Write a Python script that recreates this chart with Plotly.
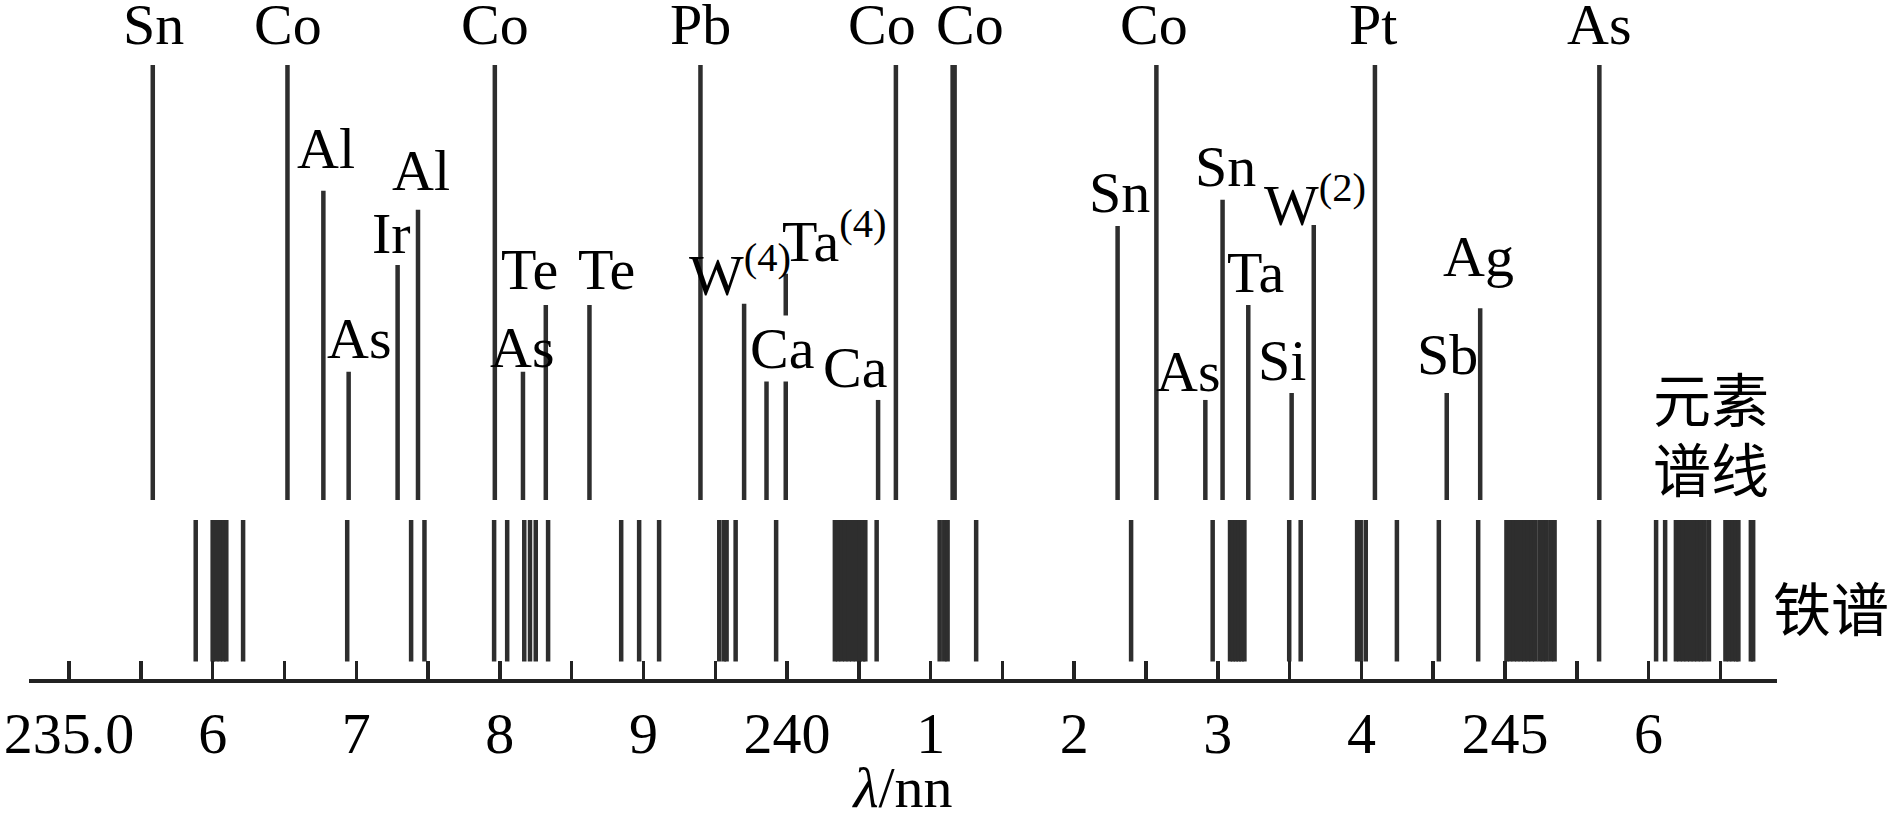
import plotly.graph_objects as go

# ---------------- data ----------------
ELEMENT_SYMBOLS = ["Sn", "Co", "Al", "As", "Ir", "Al", "Co", "As", "Te", "Te",
                   "Pb", "W<sup>(4)</sup>", "Ca", "Ta<sup>(4)</sup>", "Ca", "Co", "Co",
                   "Sn", "Co", "As", "Sn", "Ta", "Si", "W<sup>(2)</sup>", "Pt", "Sb", "Ag", "As"]
ELEMENT_WAVELENGTHS = [235.583, 236.521, 236.771, 236.947, 237.288, 237.430, 237.965,
                       238.161, 238.320, 238.624, 239.397, 239.701, 239.857, 239.991,
                       240.634, 240.758, 241.160, 242.302, 242.572, 242.913, 243.033,
                       243.212, 243.514, 243.668, 244.094, 244.594, 244.827, 245.657]
ELEMENT_INTENSITIES = [100, 100, 71.1, 29.5, 54.0, 66.7, 100, 29.5, 44.8, 44.8,
                       100, 45.1, 29.5, 52.0, 23.0, 100, 100, 63.0, 100, 23.0, 69.0,
                       44.8, 24.6, 63.2, 100, 24.6, 44.1, 100]

IRON_WAVELENGTHS = [235.882,
                    236.000, 236.025, 236.050, 236.075, 236.095,
                    236.212, 236.937, 237.382, 237.475, 237.960, 238.051,
                    238.170, 238.210, 238.250, 238.336, 238.845, 238.970, 239.109,
                    239.528, 239.560, 239.579, 239.642, 239.924,
                    240.333, 240.355, 240.380, 240.405, 240.430, 240.455, 240.480,
                    240.505, 240.530, 240.545,
                    240.624, 241.063, 241.095, 241.118, 241.317, 242.396, 242.964,
                    243.085, 243.105, 243.125, 243.145, 243.165, 243.185,
                    243.497, 243.577, 243.970, 243.995, 244.030, 244.247, 244.539,
                    244.813,
                    245.010, 245.035, 245.060, 245.085, 245.110, 245.135, 245.160,
                    245.185, 245.210, 245.240, 245.265, 245.290, 245.320, 245.345,
                    245.655, 246.052, 246.115,
                    246.190, 246.215, 246.240, 246.265, 246.290, 246.315, 246.340,
                    246.365, 246.390, 246.420,
                    246.535, 246.560, 246.585, 246.610, 246.625, 246.712, 246.728]

TICK_VALUES = [235.0, 235.5, 236.0, 236.5, 237.0, 237.5, 238.0, 238.5, 239.0, 239.5,
               240.0, 240.5, 241.0, 241.5, 242.0, 242.5, 243.0, 243.5, 244.0, 244.5,
               245.0, 245.5, 246.0, 246.5]
TICK_LABELS = ["235.0", "", "6", "", "7", "", "8", "", "9", "", "240", "", "1", "",
               "2", "", "3", "", "4", "", "245", "", "6", ""]

AXIS_TITLE = "<i>λ</i>/nn"
ELEMENT_PANEL_LABEL = ["元素", "谱线"]
IRON_PANEL_LABEL = "铁谱"

# ---------------- layout / style constants ----------------
W, H = 1890, 820
M_L, M_R, M_T, M_B = 29, 113, 0, 141
PLOT_H = H - M_T - M_B               # y axis uses pixel-like units
X_RANGE = [234.721, 246.894]
IRON_BOTTOM, IRON_TOP = 17.5, 159.0
ELEM_BASE, ELEM_FULL = 179.0, 435.0  # base height, length of a 100-intensity line
LINE_COLOR = "#2e2e2e"
THICK_INDEX = {16}
SERIF = "Liberation Serif, Times New Roman, serif"
CJK = "Noto Sans CJK SC, sans-serif"
FS = 58

# label placement: (x shift in px from its line, cap-centre y in figure px)
LABEL_POS = [(1, 24.5), (1, 24.5), (3, 148), (10, 338), (-6, 233.5), (3, 170),
             (0, 24.5), (-1, 347.5), (-16, 269), (17, 269), (0, 24), (-4, 271),
             (15, 348), (48, 237), (-23, 367.5), (-14, 24), (16, 24), (2, 192),
             (-2, 24), (-17, 371.7), (3, 166.7), (7, 272), (-10, 360), (1, 201),
             (-2, 24), (1, 354), (-2, 256), (0, 24)]
WHITE_BG = {12}


def fig_y(py):
    """figure pixel row -> y data value"""
    return PLOT_H - (py - M_T)


fig = go.Figure()

# iron spectrum
ix, iy = [], []
for lam in IRON_WAVELENGTHS:
    ix += [lam, lam, None]
    iy += [IRON_BOTTOM, IRON_TOP, None]
fig.add_trace(go.Scatter(x=ix, y=iy, mode="lines", hoverinfo="skip",
                         line=dict(color=LINE_COLOR, width=4.5), showlegend=False))

# element lines
for thick in (False, True):
    ex, ey = [], []
    for i, (lam, inten) in enumerate(zip(ELEMENT_WAVELENGTHS, ELEMENT_INTENSITIES)):
        if (i in THICK_INDEX) != thick:
            continue
        ex += [lam, lam, None]
        ey += [ELEM_BASE, ELEM_BASE + inten / 100.0 * ELEM_FULL, None]
    fig.add_trace(go.Scatter(x=ex, y=ey, mode="lines", hoverinfo="skip",
                             line=dict(color=LINE_COLOR, width=6.5 if thick else 4.5),
                             showlegend=False))

annotations = []
for i, (sym, lam) in enumerate(zip(ELEMENT_SYMBOLS, ELEMENT_WAVELENGTHS)):
    dx, py = LABEL_POS[i]
    annotations.append(dict(
        x=lam, y=fig_y(py), xref="x", yref="y", text=sym, showarrow=False,
        xshift=dx, xanchor="center", yanchor="middle",
        font=dict(family=SERIF, size=FS, color="black"),
        bgcolor="white" if i in WHITE_BG else "rgba(0,0,0,0)", borderpad=0))

annotations.append(dict(x=1711, y=396.5, text=ELEMENT_PANEL_LABEL[0]))
annotations.append(dict(x=1711, y=466.5, text=ELEMENT_PANEL_LABEL[1]))
annotations.append(dict(x=1830.6, y=606, text=IRON_PANEL_LABEL))
for a in annotations[-3:]:
    px, py = a["x"], a["y"]
    a.update(x=(px - M_L) / (W - M_L - M_R), xref="paper",
             y=fig_y(py), yref="y", showarrow=False, xanchor="center",
             yanchor="middle", font=dict(family=CJK, size=FS, color="black"))

fig.update_layout(
    width=W, height=H,
    margin=dict(l=M_L, r=M_R, t=M_T, b=M_B, autoexpand=False),
    paper_bgcolor="white", plot_bgcolor="white",
    annotations=annotations,
    xaxis=dict(range=X_RANGE, showgrid=False, zeroline=False,
               showline=True, linewidth=4, linecolor="#222",
               ticks="inside", ticklen=18, tickwidth=3.5, tickcolor="#222",
               tickvals=TICK_VALUES, ticktext=TICK_LABELS,
               tickfont=dict(family=SERIF, size=FS, color="black"),
               title=dict(text=AXIS_TITLE, standoff=2,
                          font=dict(family=SERIF, size=FS, color="black"))),
    yaxis=dict(range=[0, PLOT_H], visible=False, fixedrange=True),
)

fig.write_html("out.html",
               config={"displayModeBar": False, "staticPlot": True},
               post_script="document.body.style.margin='0px';document.body.style.overflow='hidden';")
